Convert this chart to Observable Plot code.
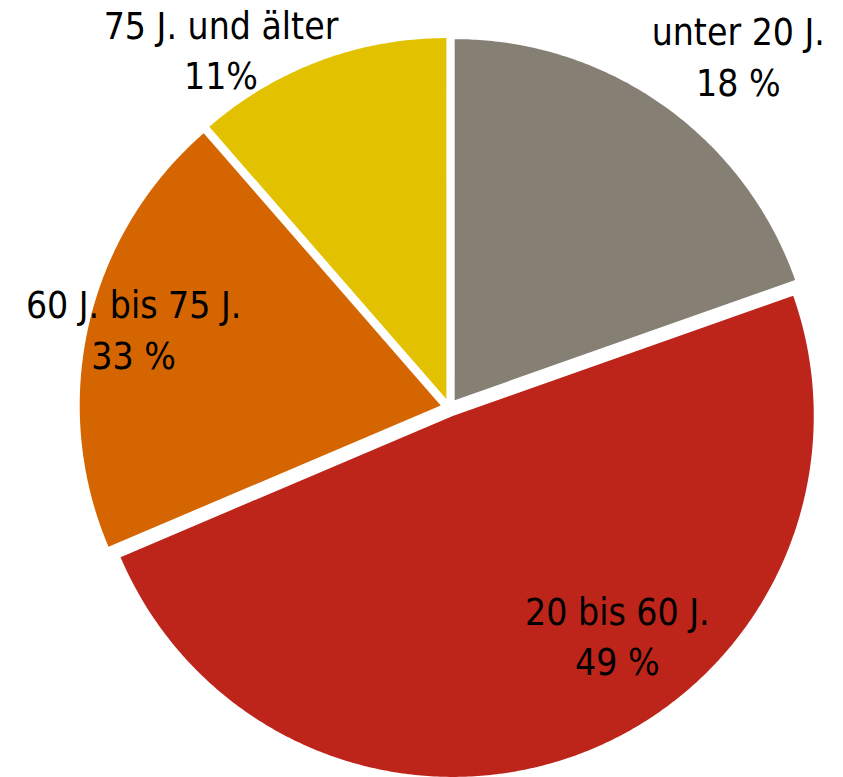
<!DOCTYPE html>
<html>
<head>
<meta charset="utf-8">
<script src="https://cdn.jsdelivr.net/npm/d3@7"></script>
<script src="https://cdn.jsdelivr.net/npm/@observablehq/plot@0.6"></script>
<style>
  html, body { margin: 0; padding: 0; background: #ffffff; }
  #chart svg { display: block; }
</style>
</head>
<body>
<div id="chart"></div>
<script>
// Categories clockwise from 12 o'clock
const categories = ["unter 20 J.", "20 bis 60 J.", "60 J. bis 75 J.", "75 J. und älter"];
// Slice shares as drawn (percent of circle)
const shares = [19.6, 49.0, 20.0, 11.4];
// Printed label values
const labelValues = ["18 %", "49 %", "33 %", "11%"];
const colors = ["#857f74", "#bd241a", "#d46500", "#e2c100"];
// Label anchors in chart units (radius = 1)
const labelAt = [[0.80, 0.978], [0.465, -0.628], [-0.875, 0.222], [-0.633, 0.997]];

const W = 843, H = 777;
const cx = 449, cy = 407, R = 361;
const explode = 9 / R;

const arcs = d3.pie().sort(null).value(d => d)(shares);

const slices = arcs.map((a, i) => {
  const mid = (a.startAngle + a.endAngle) / 2;
  const ox = explode * Math.sin(mid), oy = explode * Math.cos(mid);
  const pts = [{x: ox, y: oy}];
  const n = Math.max(8, Math.ceil((a.endAngle - a.startAngle) / (Math.PI / 360)));
  for (let k = 0; k <= n; k++) {
    const t = a.startAngle + (a.endAngle - a.startAngle) * k / n;
    pts.push({x: ox + Math.sin(t), y: oy + Math.cos(t)});
  }
  pts.push({x: ox, y: oy});
  return {points: pts, color: colors[i]};
});

const labels = categories.map((c, i) => ({
  x: labelAt[i][0], y: labelAt[i][1], text: c + "\n" + labelValues[i]
}));

const chart = Plot.plot({
  width: W,
  height: H,
  margin: 0,
  x: {domain: [-cx / R, (W - cx) / R], axis: null},
  y: {domain: [-(H - cy) / R, cy / R], axis: null},
  style: {background: "#ffffff", fontFamily: "'Liberation Sans Narrow', 'DejaVu Sans Condensed', 'Liberation Sans', sans-serif"},
  marks: [
    ...slices.map(s => Plot.line(s.points, {x: "x", y: "y", fill: s.color, stroke: "none"})),
    Plot.text(labels, {
      x: "x", y: "y", text: "text",
      fontSize: 37, lineHeight: 1.36, fill: "#000000", textAnchor: "middle"
    })
  ]
});

document.getElementById("chart").appendChild(chart);
</script>
</body>
</html>
